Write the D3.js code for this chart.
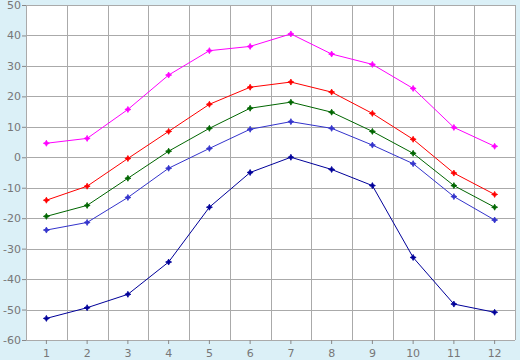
<!DOCTYPE html>
<html>
<head>
<meta charset="utf-8">
<script src="https://cdnjs.cloudflare.com/ajax/libs/d3/7.8.5/d3.min.js"></script>
<style>
  body { margin: 0; background: #dbf0f7; }
  svg { display: block; }
</style>
</head>
<body>
<div id="chart"></div>
<script>
// categories and series values
const months = ["1", "2", "3", "4", "5", "6", "7", "8", "9", "10", "11", "12"];
const yTicks = [50, 40, 30, 20, 10, 0, -10, -20, -30, -40, -50, -60];

const magenta = [4.6, 6.2, 15.7, 27.0, 35.0, 36.4, 40.5, 33.9, 30.5, 22.6, 9.8, 3.6];
const red     = [-14.1, -9.5, -0.4, 8.5, 17.4, 23.0, 24.7, 21.4, 14.4, 5.9, -5.2, -12.2];
const green   = [-19.4, -15.8, -6.9, 2.0, 9.5, 16.1, 18.1, 14.8, 8.5, 1.3, -9.3, -16.4];
const blue    = [-23.9, -21.4, -13.2, -3.6, 2.9, 9.2, 11.7, 9.5, 4.0, -2.1, -12.9, -20.6];
const navy    = [-52.9, -49.4, -45.0, -34.4, -16.4, -5.0, 0.0, -4.0, -9.3, -32.9, -48.2, -50.9];

const series = [
  { values: magenta, color: "#ff00ff" },
  { values: red, color: "#ff0000" },
  { values: green, color: "#006600" },
  { values: blue, color: "#3333cc" },
  { values: navy, color: "#000099" }
];

const W = 520, H = 360;
const margin = { top: 5, right: 5, bottom: 20, left: 26 };
const w = W - margin.left - margin.right;
const h = H - margin.top - margin.bottom;

const svg = d3.select("#chart").append("svg")
  .attr("width", W)
  .attr("height", H);

svg.append("rect")
  .attr("width", W)
  .attr("height", H)
  .style("fill", "#dbf0f7");

const g = svg.append("g")
  .attr("transform", "translate(" + margin.left + "," + margin.top + ")");

const x = d3.scaleBand().domain(months).range([0, w]);
const y = d3.scaleLinear().domain([-60, 50]).range([h, 0]);

// plot background
g.append("rect")
  .attr("width", w)
  .attr("height", h)
  .style("fill", "#fff");

// horizontal grid
g.selectAll("line.hgrid")
  .data(yTicks)
  .enter().append("line")
  .attr("class", "hgrid")
  .attr("x1", 0).attr("x2", w)
  .attr("y1", d => Math.round(y(d)) + 0.5)
  .attr("y2", d => Math.round(y(d)) + 0.5)
  .style("stroke", "#aaa");

// vertical grid at band edges
const edges = months.map(m => x(m)).concat([w]);
g.selectAll("line.vgrid")
  .data(edges)
  .enter().append("line")
  .attr("class", "vgrid")
  .attr("y1", 0).attr("y2", h)
  .attr("x1", d => Math.round(d) + 0.5)
  .attr("x2", d => Math.round(d) + 0.5)
  .style("stroke", "#aaa");

// axes
const yAxis = g.append("g")
  .call(d3.axisLeft(y).tickValues(yTicks).tickSize(4).tickPadding(1).tickFormat(d => String(d)));

const xAxis = g.append("g")
  .attr("transform", "translate(0," + h + ")")
  .call(d3.axisBottom(x).tickSize(4).tickPadding(5));

[yAxis, xAxis].forEach(a => {
  a.select(".domain").remove();
  a.selectAll("line").style("stroke", "#888");
  a.selectAll("text")
    .style("fill", "#777")
    .style("font-family", "'DejaVu Sans', Verdana, sans-serif")
    .style("font-size", "11px");
});

// lines and markers
const cx = (d, i) => x(months[i]) + x.bandwidth() / 2;
const line = d3.line()
  .x(cx)
  .y(d => y(d));

const marker = "M0,-3L1,-1L3,0L1,1L0,3L-1,1L-3,0L-1,-1Z";

series.forEach(s => {
  g.append("path")
    .datum(s.values)
    .attr("d", line)
    .style("fill", "none")
    .style("stroke", s.color)
    .style("stroke-width", 1);

  g.selectAll(null)
    .data(s.values)
    .enter().append("path")
    .attr("d", marker)
    .attr("transform", (d, i) => "translate(" + cx(d, i) + "," + y(d) + ")")
    .style("fill", s.color)
    .style("stroke", s.color)
    .style("stroke-width", 0.8);
});
</script>
</body>
</html>
